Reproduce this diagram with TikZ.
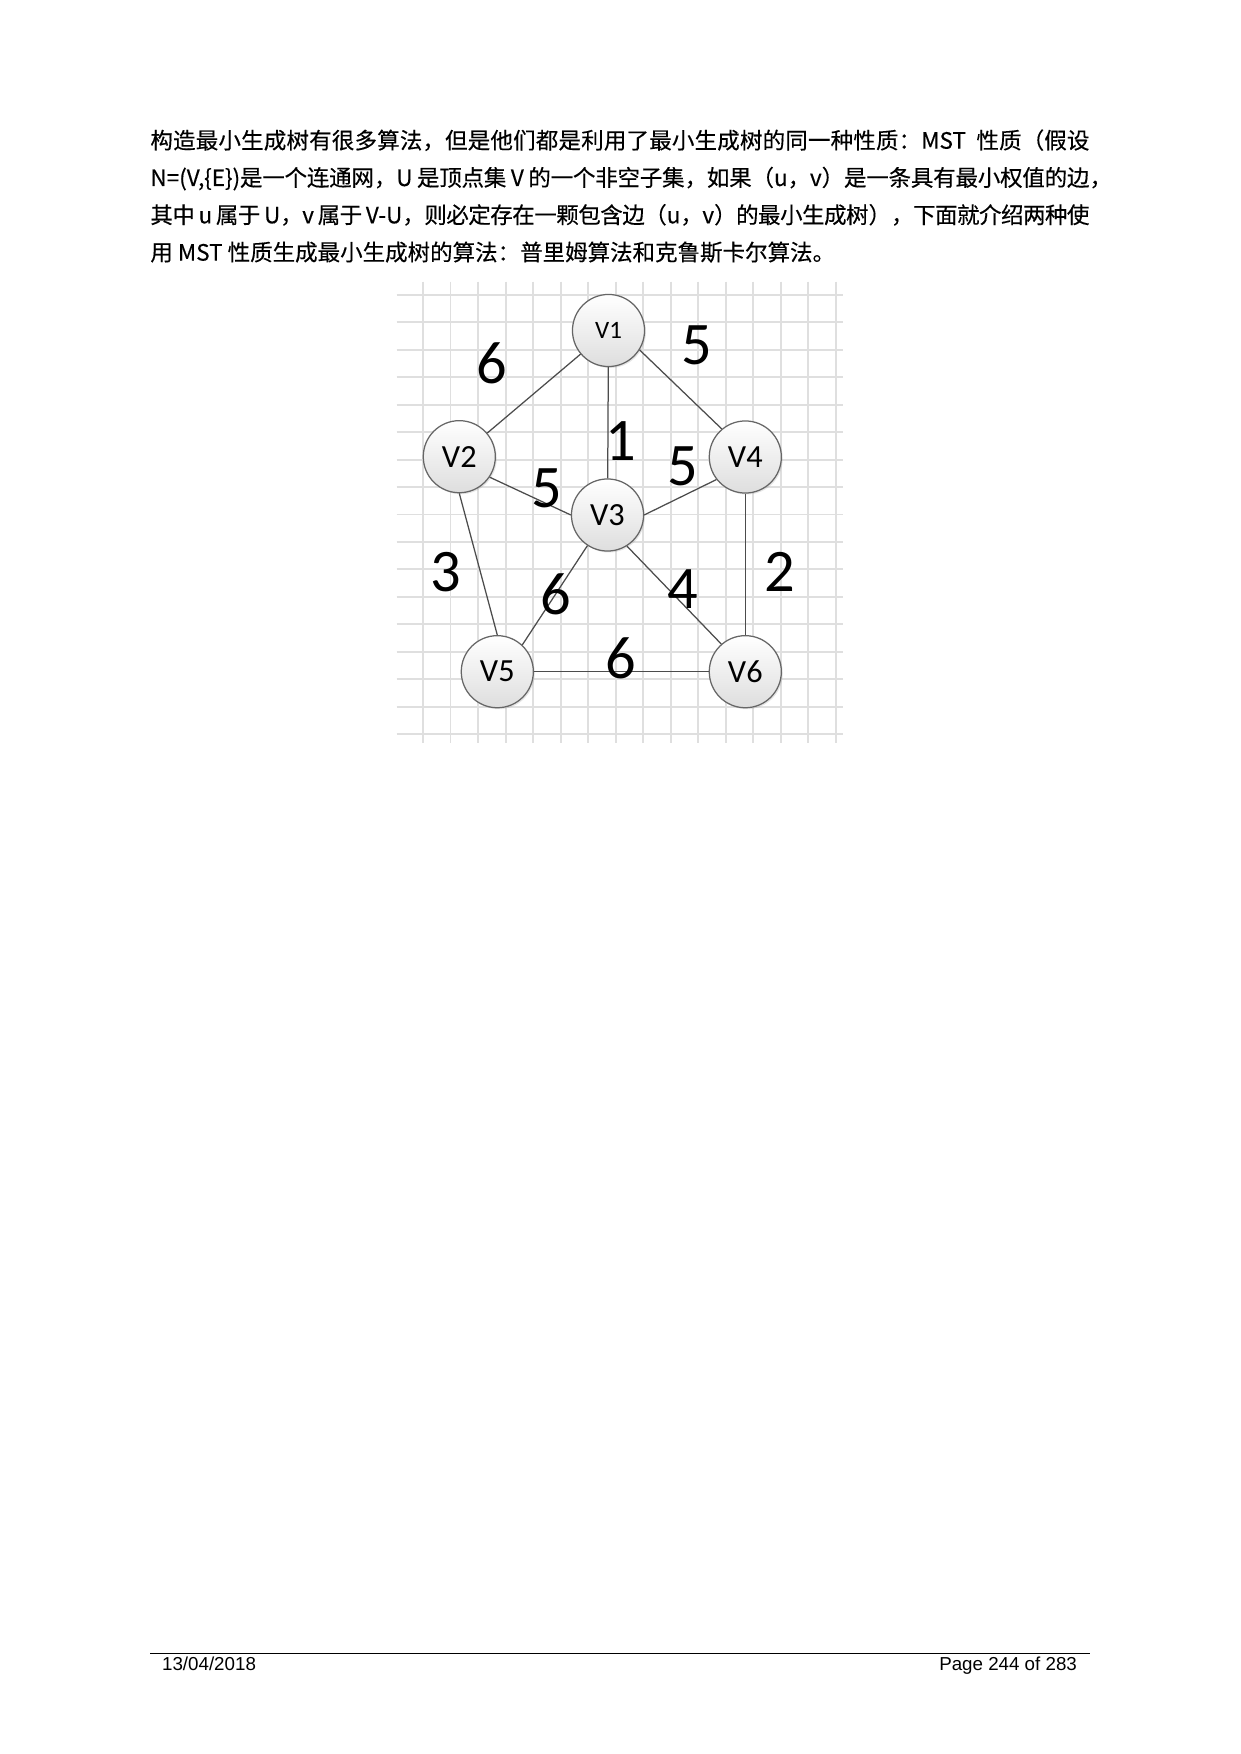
\documentclass[tikz,border=0pt]{standalone}
\usepackage{fontspec}
\setmainfont{Noto Sans CJK SC}[UprightFeatures={FakeBold=0.3}]
\newfontfamily\carl{Carlito}
\newfontfamily\arialf{Liberation Sans}
\usetikzlibrary{shadows}
\XeTeXlinebreaklocale "zh"
\XeTeXlinebreakskip=0pt plus 1pt minus 0.3pt
\begin{document}
\begin{tikzpicture}[x=0.48006pt,y=-0.48006pt,
  gridline/.style={gray!25, line width=0.9pt},
  vnode/.style={circle, draw=black!60, line width=0.6pt, minimum size=34.6pt, inner sep=0pt,
    top color=white, bottom color=black!13,
    drop shadow={shadow xshift=0.7pt, shadow yshift=-0.7pt, opacity=0.2},
    font=\carl\fontsize{15.5}{15.5}\selectfont},
  edge/.style={draw=black!70, line width=0.6pt},
  wlabel/.style={inner sep=0pt, font=\carl\fontsize{29}{29}\selectfont},
  textline/.style={anchor=base west, inner sep=0pt, text width=450.8pt, align=justify,
    font=\fontsize{10.8}{13}\selectfont},
  plainline/.style={anchor=base west, inner sep=0pt, font=\fontsize{10.8}{13}\selectfont},
  foot/.style={inner sep=0pt, font=\arialf\fontsize{9}{9}\selectfont},
]
\useasboundingbox (0,0) rectangle (1240,1754);
\fill[white] (0,0) rectangle (1240,1754);

% paragraph
\node[textline] (t1) at (150,148.7) {\parfillskip=0pt 构造最小生成树有很多算法，但是他们都是利用了最小生成树的同一种性质：MST\ \ 性质（假设\par};
\node[textline] (t2) at (150,186) {\parfillskip=0pt N=(V,\{E\})是一个连通网，U 是顶点集 V 的一个非空子集，如果（u，v）是一条具有最小权值的边\rlap{，}\par};
\node[textline] (t3) at (150,223.3) {\parfillskip=0pt 其中 u 属于 U，v 属于 V-U，则必定存在一颗包含边（u，v）的最小生成树），下面就介绍两种使\par};
\node[plainline] (t4) at (150,260.6) {用 MST 性质生成最小生成树的算法：普里姆算法和克鲁斯卡尔算法。};

% grid
\foreach \i in {0,...,15} \draw[gridline] ({423+27.53*\i},281.7) -- ({423+27.53*\i},742.7);
\foreach \j in {0,...,16} \draw[gridline] (396.7,{295+27.44*\j}) -- (842.7,{295+27.44*\j});

% vertices
\node[vnode, font=\carl\fontsize{12}{12}\selectfont] (v1) at (608.5,330.5) {V1};
\node[vnode] (v2) at (459.3,456.7) {V2};
\node[vnode] (v3) at (607.5,515) {V3};
\node[vnode] (v4) at (745.3,457) {V4};
\node[vnode] (v5) at (497.3,671.7) {V5};
\node[vnode] (v6) at (745.3,671.7) {V6};

% edges
\draw[edge] (v1) -- (v2);
\draw[edge] (v1) -- (v3);
\draw[edge] (v1.-32) -- (v4.130);
\draw[edge] (v2.-34) -- (v3.west);
\draw[edge] (v3.east) -- (v4.218);
\draw[edge] (v2.south) -- (v5.north);
\draw[edge] (v3) -- (v5.47);
\draw[edge] (v3.-58) -- (v6.131);
\draw[edge] (v4) -- (v6);
\draw[edge] (v5) -- (v6);

% weights
\node[wlabel] (w12) at (492.2,363.3) {6};
\node[wlabel] (w14) at (696.7,345.5) {5};
\node[wlabel] (w13) at (620.3,440.8) {1};
\node[wlabel] (w34) at (683,466.7) {5};
\node[wlabel] (w23) at (546.7,488.8) {5};
\node[wlabel] (w25) at (446.2,571.7) {3};
\node[wlabel] (w35) at (555.8,594.2) {6};
\node[wlabel] (w36) at (683,588.8) {4};
\node[wlabel] (w46) at (779.5,571.7) {2};
\node[wlabel] (w56) at (620.8,658.8) {6};

% footer
\coordinate (fl) at (150,1653.3);
\coordinate (fr) at (1090,1653.3);
\draw[black, line width=0.5pt] (fl) -- (fr);
\node[foot, anchor=base west] (date) at (161.7,1670) {13/04/2018};
\node[foot, anchor=base east] (page) at (1077.3,1670) {Page 244 of 283};
\end{tikzpicture}
\end{document}
